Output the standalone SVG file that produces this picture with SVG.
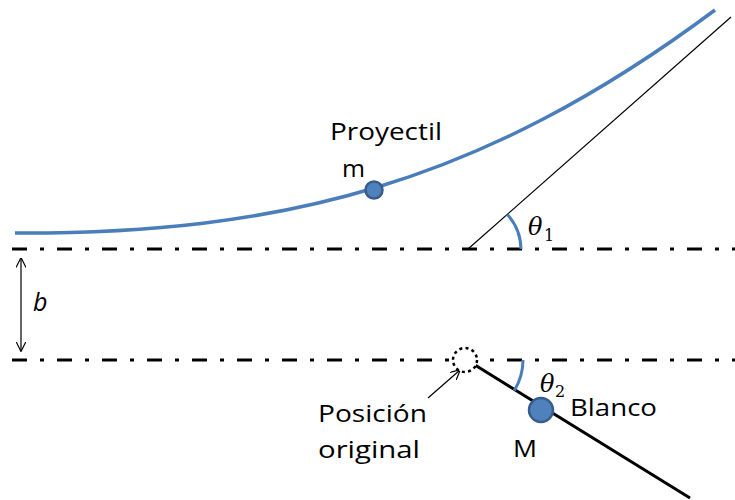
<svg xmlns="http://www.w3.org/2000/svg" width="735" height="500" viewBox="0 0 735 500">
<defs>
<style>
.lbl{font-family:"Open Sans","Liberation Sans",sans-serif;font-size:24px;fill:#000}
.math{font-family:"DejaVu Serif","Liberation Serif",serif;font-style:italic;font-size:24px;fill:#000}
.var{font-family:"Open Sans","Liberation Sans",sans-serif;font-style:italic;font-size:25px;fill:#000}
.sub{font-family:"DejaVu Serif","Liberation Serif",serif;font-size:16px;fill:#000}
.ref{fill:none;stroke:#000;stroke-width:3;stroke-dasharray:15 13 4 13}
.ball{fill:#4f81bd;stroke:#385d8a;stroke-width:2.5}
.ang{fill:none;stroke:#4a7ebb;stroke-width:3}
.thin{fill:none;stroke:#000;stroke-width:1.2}
</style>
<marker id="open" viewBox="0 0 10 10" refX="9.5" refY="5" markerWidth="10" markerHeight="10" markerUnits="userSpaceOnUse" orient="auto-start-reverse">
<path d="M0,0 L10,5 L0,10" fill="none" stroke="#000" stroke-width="1.2"/>
</marker>
</defs>
<rect width="735" height="500" fill="#fff"/>
<g id="connectors">
<line class="ref" x1="12" y1="249" x2="735" y2="249"/>
<line class="ref" x1="12" y1="360" x2="735" y2="360"/>
<path d="M15,233 C280,234 480,185 715,10" fill="none" stroke="#4a7ebb" stroke-width="3.5"/>
<line class="thin" x1="468" y1="249" x2="731" y2="17"/>
<line x1="475" y1="365" x2="690" y2="498" stroke="#000" stroke-width="3"/>
<line class="thin" x1="21" y1="258" x2="21" y2="351" marker-start="url(#open)" marker-end="url(#open)"/>
<line class="thin" x1="428" y1="398" x2="460" y2="370" marker-end="url(#open)"/>
<path class="ang" d="M507.4,214.4 A53,53 0 0 1 521,249"/>
<path class="ang" d="M523,360 A58,58 0 0 1 514.3,390.5"/>
</g>
<g id="projectile">
<circle class="ball" cx="374" cy="190" r="8.5"/>
<text class="lbl" x="330" y="140" textLength="112" lengthAdjust="spacingAndGlyphs">Proyectil</text>
<text class="lbl" x="342" y="177" textLength="23" lengthAdjust="spacingAndGlyphs">m</text>
</g>
<g id="target">
<circle class="ball" cx="541" cy="410" r="12"/>
<text class="lbl" x="570" y="416" textLength="87" lengthAdjust="spacingAndGlyphs">Blanco</text>
<text class="lbl" x="513" y="457" textLength="24" lengthAdjust="spacingAndGlyphs">M</text>
</g>
<g id="original-position">
<circle cx="465" cy="360" r="12" fill="#fff" stroke="#000" stroke-width="2.5" stroke-dasharray="3 3.3"/>
<text class="lbl" x="318" y="422" textLength="109" lengthAdjust="spacingAndGlyphs">Posición</text>
<text class="lbl" x="318" y="458" textLength="102" lengthAdjust="spacingAndGlyphs">original</text>
</g>
<g id="angle-1">
<text class="math" x="528" y="235">θ</text>
<text class="sub" x="544" y="241">1</text>
</g>
<g id="angle-2">
<text class="math" x="540" y="392">θ</text>
<text class="sub" x="555" y="397">2</text>
</g>
<g id="distance-b">
<text class="var" x="33" y="311">b</text>
</g>
</svg>
